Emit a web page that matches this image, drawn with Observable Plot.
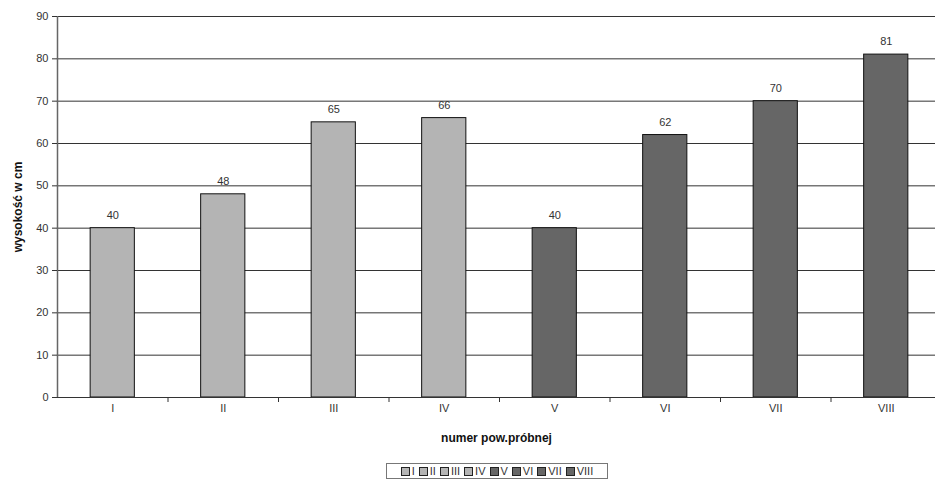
<!DOCTYPE html>
<html>
<head>
<meta charset="utf-8">
<script src="https://cdn.jsdelivr.net/npm/d3@7"></script>
<script src="https://cdn.jsdelivr.net/npm/@observablehq/plot@0.6"></script>
<style>
  body { margin: 0; background: #fff; font-family: "Liberation Sans", Arial, sans-serif; overflow: hidden; }
  #chart { width: 935px; overflow: hidden; }
  .legend { position: absolute; left: 386px; top: 463px; width: 222px; height: 16px;
    border: 1px solid #777; box-sizing: border-box; display: flex; align-items: center;
    justify-content: center; gap: 4px; font-size: 11px; color: #333; white-space: nowrap; background: #fff; }
  .legend span.sw { display: inline-block; width: 7px; height: 7px; border: 1px solid #222; margin-right: 2px; vertical-align: -1px; }
</style>
</head>
<body>
<div id="chart"></div>
<script>
const plots = ["I", "II", "III", "IV", "V", "VI", "VII", "VIII"];
const heights = [40, 48, 65, 66, 40, 62, 70, 81];
const groups = ["a", "a", "a", "a", "b", "b", "b", "b"];
const yTicks = [0, 10, 20, 30, 40, 50, 60, 70, 80, 90];
const groupColors = { a: "#b4b4b4", b: "#666666" };

const rows = plots.map((p, i) => ({ plot: p, height: heights[i], group: groups[i] }));

// the plot frame runs a little past the right edge of the page
const W = 935, H = 455, mL = 57, xEnd = 941, mT = 16, mB = 58;
const step = (xEnd - mL) / plots.length;

const chart = Plot.plot({
  width: W,
  height: H,
  marginLeft: mL,
  marginRight: 0,
  marginTop: mT,
  marginBottom: mB,
  style: { fontFamily: "Liberation Sans, Arial, sans-serif", fontSize: "11px", color: "#333", background: "#fff" },
  x: { domain: plots, range: [mL, xEnd], paddingInner: 0.6, paddingOuter: 0.3, round: false, label: null },
  y: { domain: [0, 90], label: null },
  marks: [
    Plot.ruleY(yTicks.filter(d => d > 0), { stroke: "#333", strokeWidth: 1 }),
    Plot.barY(rows, { x: "plot", y: "height", fill: d => groupColors[d.group], stroke: "#111", strokeWidth: 1 }),
    Plot.text(rows, { x: "plot", y: "height", text: d => String(d.height), dy: -13, fill: "#333", fontSize: 11 }),
    Plot.ruleX([0], { x: () => plots[0], dx: -step / 2, stroke: "#666", strokeWidth: 1.5 }),
    Plot.ruleY([0], { stroke: "#333", strokeWidth: 1 }),
    Plot.ruleX(plots, { x: d => d, dx: step / 2, y1: 0, y2: 0, insetBottom: -5, stroke: "#333" }),
    Plot.axisY({ ticks: yTicks, tickSize: 5, tickPadding: 4, stroke: "#333", fill: "#333", fontSize: 11,
      label: "wysokość w cm", labelAnchor: "center", labelArrow: "none", labelOffset: 44 }),
    Plot.axisX({ tickSize: 0, tickPadding: 7, fill: "#333", fontSize: 11,
      label: "numer pow.próbnej", labelAnchor: "center", labelArrow: "none", labelOffset: 44 })
  ]
});

// bold axis titles
d3.select(chart).selectAll("g[aria-label='y-axis label'] text, g[aria-label='x-axis label'] text")
  .attr("font-weight", "bold").attr("font-size", 12).attr("fill", "#111");

document.getElementById("chart").appendChild(chart);

const legend = document.createElement("div");
legend.className = "legend";
plots.forEach((p, i) => {
  const item = document.createElement("span");
  item.innerHTML = `<span class="sw" style="background:${groupColors[groups[i]]}"></span>${p}`;
  legend.appendChild(item);
});
document.body.appendChild(legend);
</script>
</body>
</html>
